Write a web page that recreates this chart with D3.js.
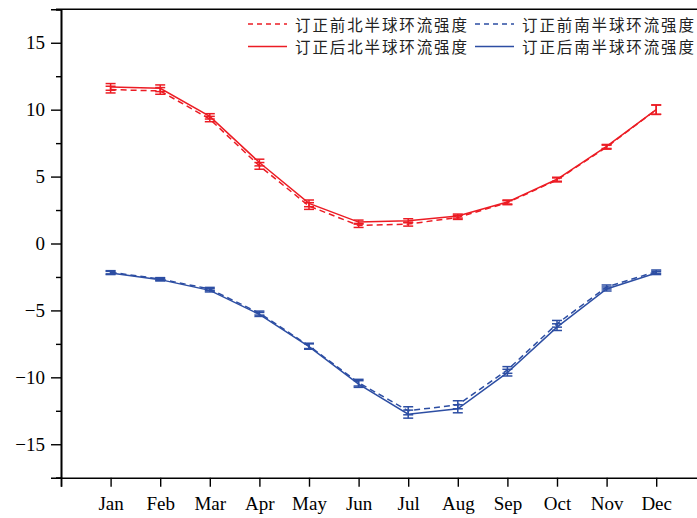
<!DOCTYPE html>
<html>
<head>
<meta charset="utf-8">
<script src="https://cdn.jsdelivr.net/npm/d3@7"></script>
<style>
  html, body { margin: 0; padding: 0; background: #fff; }
  svg { display: block; }
</style>
</head>
<body>
<svg id="chart" width="697" height="518"></svg>
<script>
const months = ["Jan","Feb","Mar","Apr","May","Jun","Jul","Aug","Sep","Oct","Nov","Dec"];
const yTicks = [-15, -10, -5, 0, 5, 10, 15];
const nhBefore = [11.5, 11.4, 9.3, 5.8, 2.8, 1.35, 1.45, 1.95, 3.05, 4.75, 7.2, 10.0];
const nhBeforeErr = [0.25, 0.25, 0.2, 0.25, 0.25, 0.15, 0.15, 0.15, 0.15, 0.15, 0.15, 0.35];
const shBefore = [-2.15, -2.65, -3.4, -5.2, -7.65, -10.4, -12.5, -12.05, -9.45, -6.0, -3.25, -2.1];
const shBeforeErr = [0.12, 0.1, 0.12, 0.15, 0.2, 0.25, 0.3, 0.3, 0.25, 0.25, 0.15, 0.12];
const nhAfter = [11.7, 11.6, 9.5, 6.05, 3.0, 1.6, 1.7, 2.05, 3.1, 4.8, 7.25, 10.0];
const nhAfterErr = [0.25, 0.25, 0.2, 0.25, 0.25, 0.15, 0.15, 0.15, 0.15, 0.15, 0.15, 0.35];
const shAfter = [-2.2, -2.7, -3.5, -5.3, -7.7, -10.5, -12.75, -12.35, -9.65, -6.25, -3.4, -2.2];
const shAfterErr = [0.12, 0.1, 0.12, 0.15, 0.2, 0.25, 0.3, 0.3, 0.25, 0.25, 0.15, 0.12];
const legendLabels = ["订正前北半球环流强度", "订正前南半球环流强度", "订正后北半球环流强度", "订正后南半球环流强度"];

const RED = "#ec1c24", BLUE = "#2d4ea3";
const series = [
  {vals: nhBefore, err: nhBeforeErr, color: RED, dash: "6,4", label: legendLabels[0]},
  {vals: shBefore, err: shBeforeErr, color: BLUE, dash: "6,4", label: legendLabels[1]},
  {vals: nhAfter, err: nhAfterErr, color: RED, dash: null, label: legendLabels[2]},
  {vals: shAfter, err: shAfterErr, color: BLUE, dash: null, label: legendLabels[3]}
];

const svg = d3.select("#chart");
const mLeft = 61, mTop = 9.3, mBottom = 477.7;
const x = d3.scaleLinear().domain([0, 13]).range([mLeft, mLeft + 13 * 49.6]);
const y = d3.scaleLinear().domain([-17.5, 17.5]).range([mBottom, mTop]);

// frame top line
svg.append("line").attr("x1", mLeft - 5).attr("x2", 697).attr("y1", mTop).attr("y2", mTop)
  .attr("stroke", "#000").attr("stroke-width", 1.6);

// Y axis
const yMinor = d3.range(-17.5, 17.6, 5);
const yAx = svg.append("g").attr("transform", `translate(${mLeft},0)`);
yAx.call(d3.axisLeft(y).tickValues(yMinor).tickSize(5).tickFormat(""));
const yMaj = svg.append("g").attr("transform", `translate(${mLeft},0)`)
  .call(d3.axisLeft(y).tickValues(yTicks).tickSize(10).tickPadding(6)
    .tickFormat(d => d < 0 ? "\u2212" + Math.abs(d) : d));
[yAx, yMaj].forEach(g => {
  g.select(".domain").attr("stroke", "#000").attr("stroke-width", 1.6);
  g.selectAll(".tick line").attr("stroke", "#000").attr("stroke-width", 1.4);
});
yMaj.selectAll(".tick text").attr("font-family", "Liberation Serif, Times New Roman, serif")
  .attr("font-size", 19).attr("fill", "#000");

// X axis
const xAx = svg.append("g").attr("transform", `translate(0,${mBottom})`)
  .call(d3.axisBottom(x).tickValues(d3.range(0, 13)).tickSize(9).tickPadding(10)
    .tickFormat(d => d >= 1 ? months[d - 1] : ""));
xAx.select(".domain").attr("stroke", "#000").attr("stroke-width", 1.6);
xAx.selectAll(".tick line").attr("stroke", "#000").attr("stroke-width", 1.4);
xAx.selectAll(".tick text").attr("font-family", "Liberation Serif, Times New Roman, serif")
  .attr("font-size", 19).attr("fill", "#000");

// lines and error bars
const line = d3.line().x((d, i) => x(i + 1)).y(d => y(d));
series.forEach(s => {
  svg.append("path").datum(s.vals).attr("d", line).attr("fill", "none")
    .attr("stroke", s.color).attr("stroke-width", 1.5)
    .attr("stroke-dasharray", s.dash);
  const g = svg.append("g").attr("stroke", s.color).attr("stroke-width", 1.5);
  s.vals.forEach((v, i) => {
    const cx = x(i + 1), y1 = y(v - s.err[i]), y2 = y(v + s.err[i]);
    g.append("line").attr("x1", cx).attr("x2", cx).attr("y1", y1).attr("y2", y2);
    g.append("line").attr("x1", cx - 5).attr("x2", cx + 5).attr("y1", y1).attr("y2", y1);
    g.append("line").attr("x1", cx - 5).attr("x2", cx + 5).attr("y1", y2).attr("y2", y2);
  });
});

// legend
const legPos = [[248, 25], [475, 25], [248, 47.5], [475, 47.5]];
series.forEach((s, i) => {
  const [lx, ly] = legPos[i];
  svg.append("line").attr("x1", lx).attr("x2", lx + 39).attr("y1", ly - 1).attr("y2", ly - 1)
    .attr("stroke", s.color).attr("stroke-width", 1.3).attr("stroke-dasharray", s.dash ? "5,4" : null);
  svg.append("text").attr("x", lx + 47).attr("y", ly).attr("dy", "0.36em")
    .attr("font-family", "Noto Sans CJK SC, sans-serif").attr("font-size", 15.5)
    .attr("textLength", 172).attr("lengthAdjust", "spacing")
    .attr("fill", "#222").text(s.label);
});
</script>
</body>
</html>
